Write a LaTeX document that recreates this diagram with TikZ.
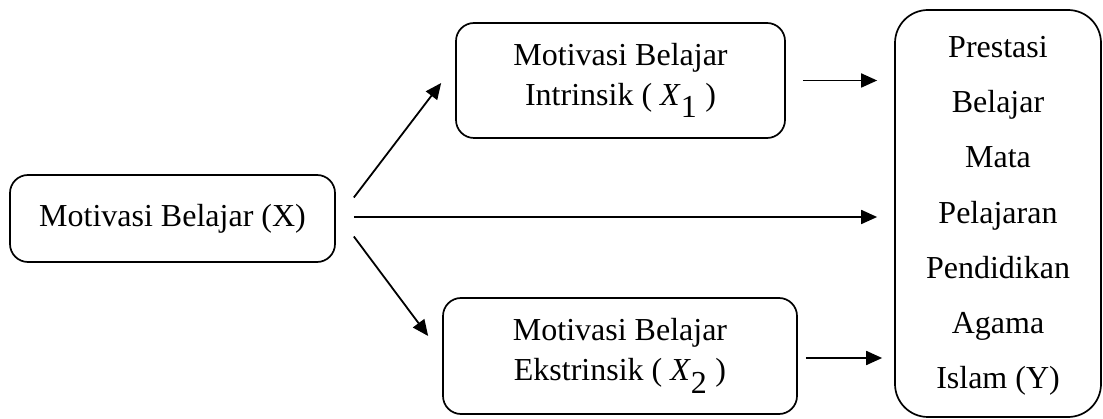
\documentclass[tikz,border=0pt]{standalone}
\usepackage{fontspec}
\setmainfont{Liberation Serif}
\usetikzlibrary{arrows.meta,calc}
\newcommand{\subX}[1]{\textit{X}$_{\textrm{#1}}$}
\begin{document}
\begin{tikzpicture}[x=1pt,y=-1pt,
  box/.style={draw,line width=1.7pt,rounded corners=18pt,align=center,inner sep=0pt,
    font=\fontsize{32}{40}\selectfont},
  arr/.style={line width=1.8pt,-{Triangle[length=16pt,width=14pt]}}]
\useasboundingbox (0,0) rectangle (1103,419);
\node[box,minimum width=325pt,minimum height=87pt] (l) at (172.5,218.5) {Motivasi Belajar (X)};
\node[box,minimum width=329pt,minimum height=115pt] (t) at (620.5,80.5) {Motivasi Belajar\\Intrinsik ( \subX{1} )};
\node[box,minimum width=354pt,minimum height=116pt] (b) at (620,356) {Motivasi Belajar\\Ekstrinsik ( \subX{2} )};
\node[box,rounded corners=33pt,minimum width=206pt,minimum height=407pt] (r) at (998,213.5) {};
\node[align=center,inner sep=0pt,font=\fontsize{32}{55.2}\selectfont] (rt) at (998,216)
  {Prestasi\\Belajar\\Mata\\Pelajaran\\Pendidikan\\Agama\\Islam (Y)};
\draw[arr,shorten <=17pt,shorten >=17pt] (t.east) -- (t.east -| r.west);
\draw[arr] ($(b.east)+(8,2)$) -- ($(b.east -| r.west)+(-12,2)$);
\draw[arr] ($(l.east)+(18,-1.5)$) -- ($(l.east -| r.west)+(-17,-1.5)$);
\draw[arr] ($(l.east)+(18,-21)$) -- ($(t.west)+(-14,2.5)$);
\draw[arr] ($(l.east)+(18,18)$) -- ($(b.west)+(-14,-20)$);
\end{tikzpicture}
\end{document}
